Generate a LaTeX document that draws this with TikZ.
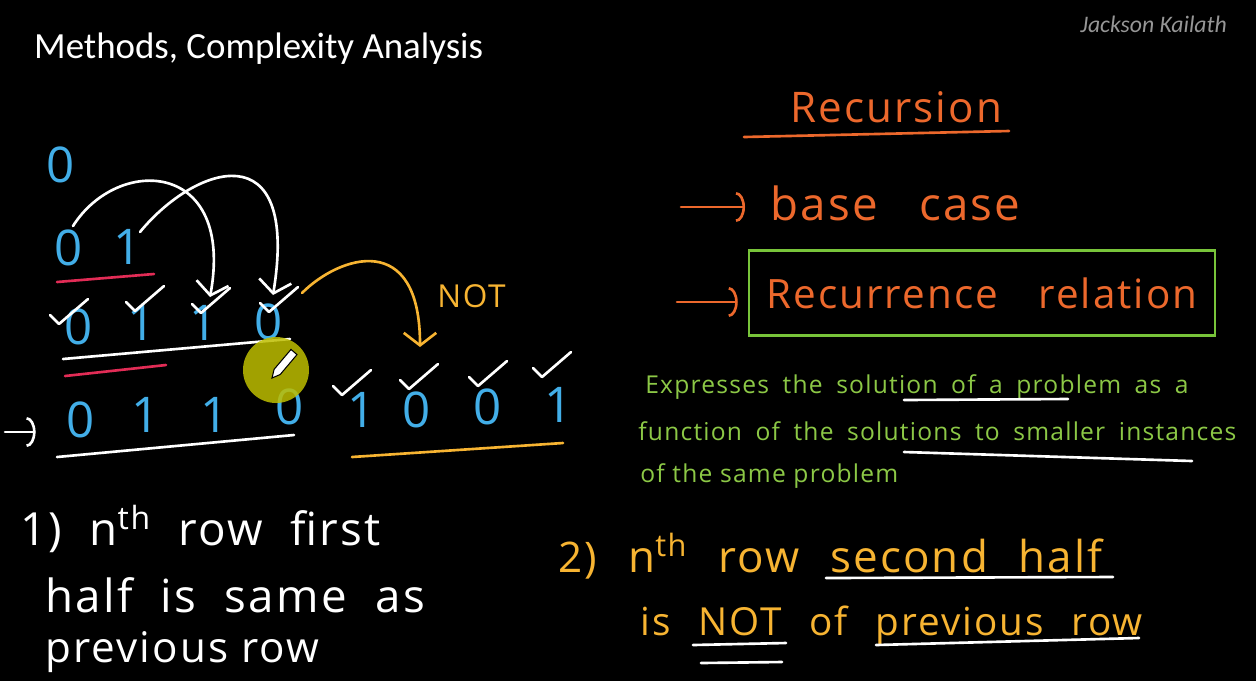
\documentclass[tikz,border=0pt]{standalone}
\usepackage{fontspec}
\setmainfont{Carlito}
\newfontfamily\hand[LetterSpace=5]{Open Sans}
\usetikzlibrary{arrows.meta}

\definecolor{chalkblue}{RGB}{66,174,232}
\definecolor{chalkred}{RGB}{226,44,86}
\definecolor{chalkorange}{RGB}{236,104,44}
\definecolor{chalkyellow}{RGB}{247,180,50}
\definecolor{chalkgreen}{RGB}{140,200,70}
\definecolor{boxgreen}{RGB}{120,196,58}
\definecolor{namegrey}{RGB}{150,150,150}
\definecolor{cursor}{RGB}{190,190,0}
\newcommand\setfs[1]{\fontsize{#1}{#1}\selectfont}

\begin{document}
\begin{tikzpicture}[x=0.02cm,y=-0.02cm,
  pen/.style={line width=1.5pt,line cap=round,line join=round},
  digit/.style={text=chalkblue,font=\hand\setfs{28},inner sep=0pt},
  hw/.style={inner sep=0pt,anchor=base west},
  tick/.style={pen,draw=white},
  barb/.style={pen,-{Straight Barb[length=2.5mm,width=6.5mm]}},
  hook/.style={pen,-{Arc Barb[length=1.8mm,width=6mm]}}]
\fill[black] (0,0) rectangle (1256,681);
\useasboundingbox (0,0) rectangle (1256,681);

% header
\node[anchor=base west,text=white,font=\setfs{21}] (title) at (28,58) {Methods, Complexity Analysis};
\node[anchor=base east,text=namegrey,font=\itshape\setfs{13.5}] (author) at (1233,32) {Jackson Kailath};

% rows of digits
\node[digit] (top) at (61,165) {0};
\node[digit] (r2a) at (69,248) {0};
\node[digit] (r2b) at (128,247) {1};
\foreach \n/\x/\y/\d in {a/79/327/0,b/142/323/1,c/204/323/1,d/269/322/0}
  \node[digit] (r3\n) at (\x,\y) {\d};
\foreach \n/\x/\y/\d in {a/81/420/0,b/146/415/1,c/215/415/1,d/290/407/0,
  e/362/410/1,f/417/410/0,g/488/407/0,h/559/405/1}
  \node[digit] (r4\n) at (\x,\y) {\d};

% underlines
\draw[pen,chalkred] (57,282) -- (154,274);
\draw[pen,white] (63,359) -- (290,339);
\draw[pen,chalkred] (65,376) -- (166,365);
\draw[pen,white] (57,457) -- (294,435);
\draw[pen,chalkyellow] (352,457) -- (563,443);

% ticks
\foreach \n/\dx/\dy in {r3a/-20/-3,r3b/-7/-12,r3c/-3/-10,r3d/0/-10,
  r4e/-20/-15,r4f/-8/-21,r4g/-10/-21,r4h/-17/-28}
  \draw[tick] ([shift={(\dx,\dy)}]\n.center) ++(-9,-9) -- ++(9,9) -- ++(29,-25);

% arrows
\draw[barb,white] ([shift={(4,-22)}]r2a.center) .. controls (118,155) and (235,160) .. ([shift={(6,-26)}]r3c.center);
\draw[barb,white] ([shift={(12,-15)}]r2b.center) .. controls (195,165) and (300,130) .. ([shift={(4,-27)}]r3d.center);
\draw[barb,chalkyellow] ([shift={(33,-29)}]r3d.center) .. controls (340,255) and (420,230) .. ([shift={(3,-63)}]r4f.center);
\node[hw,text=chalkyellow,font=\hand\setfs{18}] (notlbl) at (437,307) {NOT};
\coordinate (r4from) at (5,432);
\draw[hook,white,shorten >=0.62cm] (r4from) -- (r4from -| r4a.west);

% recursion notes
\node[hw,text=chalkorange,font=\hand\setfs{24}] (recur) at (790,122) {Recursion};
\draw[pen,chalkorange] (744,137) -- (1009,131);
\node[hw,text=chalkorange,font=\hand\setfs{26}] (base) at (770,220) {base\hspace{0.9em}case};
\coordinate (basefrom) at (681,207);
\draw[hook,chalkorange,shorten >=5mm] (basefrom) -- (basefrom -| base.west);
\node[draw=boxgreen,line width=1.5pt,minimum width=9.32cm,minimum height=1.7cm,
  text=chalkorange,font=\hand\setfs{23}] (rel) at (982,293) {Recurrence\hspace{1em}relation};
\coordinate (relfrom) at (677,302);
\draw[hook,chalkorange,shorten >=2mm] (relfrom) -- (relfrom -| rel.west);

\node[hw,text=chalkgreen,font=\hand\setfs{14}] (expr1) at (645,393) {\spaceskip=0.55em Expresses the solution of a problem as a};
\node[hw,text=chalkgreen,font=\hand\setfs{14}] (expr2) at (638,440) {\spaceskip=0.55em function of the solutions to smaller instances};
\node[hw,text=chalkgreen,font=\hand\setfs{14}] (expr3) at (640,482) {of the same problem};
\draw[pen,white] (904,400) -- (1068,399);
\draw[pen,white] (904,452) -- (1192,461);

% observations
\node[hw,text=white,font=\hand\setfs{26}] (first1) at (20,545) {\spaceskip=0.6em 1) n\textsuperscript{th} row first};
\node[hw,text=white,font=\hand\setfs{26}] (first2) at (45,612) {\spaceskip=0.62em half is same as};
\node[hw,text=white,font=\hand\setfs{24}] (first3) at (45,662) {previous row};

\node[hw,text=chalkyellow,font=\hand\setfs{24}] (two) at (558,572) {2)};
\node[hw,text=chalkyellow,font=\hand\setfs{25}] (second) at (628,572) {\spaceskip=0.7em n\textsuperscript{th} row second half};
\node[hw,text=chalkyellow,font=\hand\setfs{22}] (notprev) at (640,635) {\spaceskip=0.72em is NOT of previous row};
\draw[pen,white] (826,578) -- (1113,577);
\draw[pen,white] (693,645) -- (786,643);
\draw[pen,white] (701,663) -- (782,662);
\draw[pen,white] (876,645) -- (1139,638);

% pen cursor
\fill[cursor,opacity=0.85] (276,370) circle (33);
\draw[fill=white,draw=black,line width=0.6pt] (272,378) -- (280.2,374.5) -- (297,354.6) -- (291,349.4) -- (274.1,369.3) -- cycle;
\end{tikzpicture}
\end{document}
